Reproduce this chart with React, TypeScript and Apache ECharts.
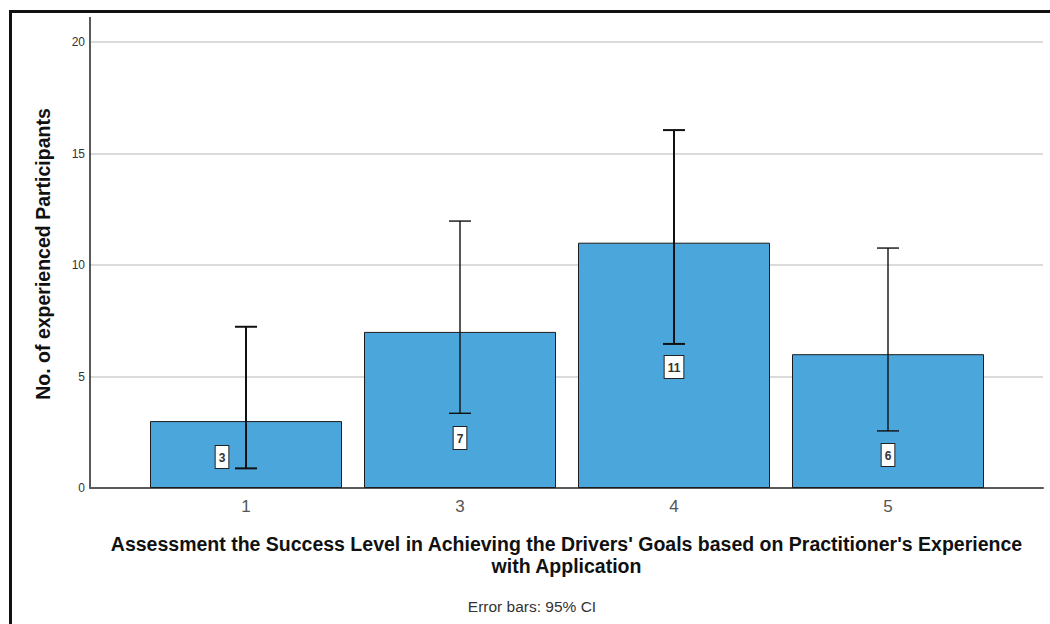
import React, { useEffect, useRef } from "react";
import * as echarts from "echarts";

// Counts per rating level, with 95% confidence interval bounds
const categories = ["1", "3", "4", "5"];
const counts = [3, 7, 11, 6];
const ciLower = [0.88, 3.35, 6.46, 2.56];
const ciUpper = [7.23, 11.97, 16.05, 10.76];
const yTicks = [0, 5, 10, 15, 20];

const FONT = '"Liberation Sans", Arial, Helvetica, sans-serif';
const BAR_BLUE = "#4ba6dc";

// pixel nudges for the value tags that sit inside the bars
const tagOffsets: [number, number][] = [
  [-24, -20],
  [0, -39],
  [0, -110],
  [0, -22],
];
const whiskerWidths = [2, 1.4, 2, 1.4];

export default function App() {
  const ref = useRef<HTMLDivElement>(null);

  useEffect(() => {
    if (!ref.current) return;
    const chart = echarts.init(ref.current, null, { renderer: "svg" });

    const barData = counts.map((v, i) => ({
      value: v,
      label: { offset: tagOffsets[i] },
    }));
    const errData = categories.map((_, i) => [i, ciLower[i], ciUpper[i]]);

    chart.setOption({
      animation: false,
      backgroundColor: "#ffffff",
      textStyle: { fontFamily: FONT },
      grid: [
        { left: 90, right: 7, top: 42, bottom: 136, containLabel: false },
        { left: 139, right: 55, top: 42, bottom: 136, containLabel: false },
      ],
      xAxis: [
        {
          gridIndex: 0,
          type: "value",
          min: 0,
          max: 1,
          axisLine: { show: true, onZero: false, lineStyle: { color: "#5a5a5a", width: 2 } },
          axisTick: { show: false },
          axisLabel: { show: false },
          splitLine: { show: false },
          name:
            "Assessment the Success Level in Achieving the Drivers' Goals based on Practitioner's Experience\nwith Application",
          nameLocation: "middle",
          nameGap: 45,
          nameTextStyle: {
            fontFamily: FONT,
            fontSize: 19.5,
            fontWeight: "bold",
            color: "#111",
            lineHeight: 22,
            align: "center",
          },
        },
        {
          gridIndex: 1,
          type: "category",
          data: categories,
          axisLine: { show: false },
          axisTick: { show: false },
          axisLabel: { fontFamily: FONT, fontSize: 17, color: "#555", margin: 10 },
          splitLine: { show: false },
        },
      ],
      yAxis: [
        {
          gridIndex: 0,
          type: "value",
          min: yTicks[0],
          max: yTicks[yTicks.length - 1],
          interval: 5,
          axisLine: { show: true, lineStyle: { color: "#222", width: 1.5 } },
          axisTick: { show: false },
          axisLabel: { fontFamily: FONT, fontSize: 12, color: "#333", margin: 5 },
          splitLine: { show: true, lineStyle: { color: "#cfcfcf", width: 1.5 } },
        },
        {
          gridIndex: 1,
          type: "value",
          min: yTicks[0],
          max: yTicks[yTicks.length - 1],
          show: false,
        },
      ],
      series: [
        {
          type: "bar",
          xAxisIndex: 1,
          yAxisIndex: 1,
          data: barData,
          barWidth: 192,
          itemStyle: { color: BAR_BLUE, borderColor: "#1c1c1c", borderWidth: 1 },
          label: {
            show: true,
            position: "insideBottom",
            distance: 0,
            fontFamily: FONT,
            fontSize: 12,
            fontWeight: "bold",
            color: "#333",
            lineHeight: 13,
            backgroundColor: "#ffffff",
            borderColor: "#222",
            borderWidth: 1,
            padding: [5, 3, 4, 3],
          },
          z: 2,
        },
        {
          type: "custom",
          xAxisIndex: 1,
          yAxisIndex: 1,
          data: errData,
          z: 5,
          renderItem: (params: any, api: any) => {
            const idx = api.value(0);
            const lo = api.coord([idx, api.value(1)]);
            const hi = api.coord([idx, api.value(2)]);
            const half = 11;
            const w = whiskerWidths[params.dataIndex];
            const style = { stroke: "#111", lineWidth: w, fill: "none" };
            return {
              type: "group",
              children: [
                { type: "line", shape: { x1: hi[0], y1: hi[1], x2: lo[0], y2: lo[1] }, style },
                { type: "line", shape: { x1: hi[0] - half, y1: hi[1], x2: hi[0] + half, y2: hi[1] }, style },
                { type: "line", shape: { x1: lo[0] - half, y1: lo[1], x2: lo[0] + half, y2: lo[1] }, style },
              ],
            };
          },
        },
      ],
      graphic: [
        // frame edges
        { type: "rect", shape: { x: 9, y: 10, width: 1041, height: 3 }, style: { fill: "#111" } },
        { type: "rect", shape: { x: 9, y: 10, width: 3, height: 614 }, style: { fill: "#111" } },
        // y axis continues a little above the top tick
        {
          type: "line",
          shape: { x1: 90, y1: 17, x2: 90, y2: 42 },
          style: { stroke: "#222", lineWidth: 1.5 },
        },
        // y axis title, centred on the full axis line
        {
          type: "text",
          x: 43,
          y: 254,
          rotation: Math.PI / 2,
          style: {
            text: "No. of experienced Participants",
            fontFamily: FONT,
            fontSize: 19.5,
            fontWeight: "bold",
            fill: "#111",
            textAlign: "center",
            textVerticalAlign: "middle",
          },
        },
        {
          type: "text",
          x: 532,
          y: 606,
          style: {
            text: "Error bars: 95% CI",
            fontFamily: FONT,
            fontSize: 15.5,
            fill: "#333",
            textAlign: "center",
            textVerticalAlign: "middle",
          },
        },
      ],
    });

    return () => chart.dispose();
  }, []);

  return (
    <div
      ref={ref}
      style={{ position: "fixed", left: 0, top: 0, width: 1050, height: 624, background: "#fff" }}
    />
  );
}
